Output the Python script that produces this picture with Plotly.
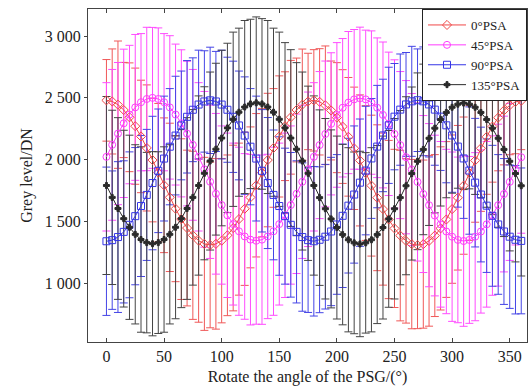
import plotly.graph_objects as go

angles = list(range(0, 365, 5))

psa0 = [2480, 2471, 2445, 2402, 2343, 2271, 2188, 2095, 1997, 1895, 1793, 1695, 1603, 1519, 1447, 1388, 1345, 1319, 1310,
        1319, 1345, 1388, 1447, 1519, 1603, 1695, 1793, 1895, 1997, 2095, 2188, 2271, 2343, 2402, 2445, 2471, 2480,
        2468, 2440, 2398, 2340, 2268, 2185, 2092, 1994, 1892, 1790, 1692, 1600, 1516, 1444, 1386, 1343, 1317, 1308,
        1317, 1343, 1386, 1444, 1516, 1600, 1692, 1790, 1892, 1994, 2092, 2185, 2268, 2340, 2398, 2440, 2468, 2476]
err0 = [330, 425, 515, 385, 440, 470, 455, 510, 500, 560, 545, 600, 590, 650, 630, 680, 660, 700, 670,
        690, 665, 650, 670, 615, 620, 570, 580, 520, 540, 480, 490, 440, 460, 420, 450, 390, 410,
        430, 480, 400, 445, 460, 480, 495, 530, 545, 570, 590, 615, 640, 640, 690, 665, 685, 675,
        680, 690, 655, 660, 630, 600, 585, 555, 545, 500, 510, 465, 450, 430, 440, 400, 420, 395]

psa45 = [2023, 2120, 2211, 2294, 2365, 2423, 2465, 2491, 2500, 2491, 2465, 2423, 2365, 2294, 2211, 2120, 2023, 1922, 1821,
         1724, 1633, 1550, 1479, 1421, 1379, 1353, 1344, 1353, 1379, 1421, 1479, 1550, 1633, 1724, 1821, 1922, 2023,
         2118, 2208, 2290, 2362, 2420, 2462, 2488, 2497, 2488, 2462, 2420, 2362, 2290, 2208, 2118, 2020, 1920, 1820,
         1722, 1632, 1548, 1477, 1419, 1377, 1351, 1342, 1351, 1377, 1419, 1477, 1548, 1632, 1722, 1820, 1920, 2020]
err45 = [600, 610, 575, 600, 560, 590, 555, 580, 570, 575, 555, 580, 570, 595, 585, 610, 600, 630, 620,
         650, 640, 665, 655, 680, 670, 690, 675, 685, 665, 680, 655, 665, 640, 645, 620, 625, 600,
         595, 590, 575, 585, 560, 575, 565, 575, 560, 580, 565, 590, 580, 600, 595, 620, 615, 640,
         635, 660, 650, 670, 665, 685, 670, 690, 675, 680, 660, 670, 645, 655, 630, 635, 610, 615]

psa90 = [1340, 1349, 1374, 1416, 1473, 1543, 1625, 1715, 1811, 1910, 2009, 2105, 2195, 2277, 2347, 2404, 2446, 2471, 2480,
         2471, 2446, 2404, 2347, 2277, 2195, 2105, 2009, 1910, 1811, 1715, 1625, 1543, 1473, 1416, 1374, 1349, 1340,
         1352, 1377, 1419, 1476, 1546, 1628, 1718, 1814, 1912, 2010, 2106, 2196, 2278, 2348, 2405, 2447, 2472, 2481,
         2472, 2447, 2405, 2348, 2278, 2196, 2106, 2010, 1912, 1814, 1718, 1628, 1546, 1476, 1419, 1377, 1352, 1343]
err90 = [600, 560, 610, 575, 590, 555, 570, 530, 540, 500, 505, 470, 480, 440, 455, 420, 440, 410, 430,
         405, 440, 425, 450, 440, 475, 470, 505, 495, 530, 525, 560, 550, 585, 575, 600, 585, 605,
         590, 585, 600, 565, 580, 545, 555, 515, 520, 485, 495, 455, 470, 430, 450, 420, 445, 415,
         440, 425, 450, 435, 465, 460, 490, 485, 515, 520, 545, 540, 570, 565, 590, 580, 600, 590]

psa135 = [1791, 1695, 1605, 1523, 1453, 1396, 1354, 1329, 1320, 1329, 1354, 1396, 1453, 1523, 1605, 1695, 1791, 1890, 1989,
          2085, 2175, 2257, 2327, 2384, 2426, 2451, 2460, 2451, 2426, 2384, 2327, 2257, 2175, 2085, 1989, 1890, 1791,
          1693, 1603, 1521, 1451, 1394, 1352, 1327, 1318, 1327, 1352, 1394, 1451, 1521, 1603, 1693, 1789, 1888, 1987,
          2083, 2173, 2255, 2325, 2382, 2424, 2449, 2458, 2449, 2424, 2382, 2325, 2255, 2173, 2083, 1987, 1888, 1789]
err135 = [720, 705, 735, 715, 745, 725, 750, 730, 745, 735, 750, 725, 740, 720, 735, 710, 725, 700, 720,
          695, 710, 685, 705, 680, 700, 685, 695, 690, 700, 680, 705, 690, 715, 700, 720, 705, 725,
          710, 730, 720, 740, 730, 745, 735, 750, 730, 745, 720, 740, 715, 730, 705, 720, 700, 715,
          690, 705, 685, 700, 690, 695, 680, 700, 685, 705, 690, 710, 700, 720, 705, 725, 715, 730]

series_names = ["0°PSA", "45°PSA", "90°PSA", "135°PSA"]
x_ticks = [0, 50, 100, 150, 200, 250, 300, 350]
y_tick_vals = [1000, 1500, 2000, 2500, 3000]
y_tick_text = ["1 000", "1 500", "2 000", "2 500", "3 000"]

values = [psa0, psa45, psa90, psa135]
errors = [err0, err45, err90, err135]
colors = ["#F04848", "#FF3CFF", "#3434E6", "#2A2A2A"]
bar_colors = ["#F05858", "#FF4CFF", "#4444E6", "#444444"]
symbols = ["diamond-open", "circle-open", "square-open", "cross"]
sizes = [7, 7, 7, 5]

FONT = "Liberation Serif, Times New Roman, serif"

fig = go.Figure()

for v, e, c in zip(values, errors, bar_colors):
    fig.add_trace(go.Scatter(
        x=angles, y=v, mode="markers",
        marker=dict(size=1, color="rgba(0,0,0,0)"),
        error_y=dict(type="data", array=e, visible=True, color=c, thickness=1, width=4),
        showlegend=False, hoverinfo="skip"))

for v, c, s, sz, n in zip(values, colors, symbols, sizes, series_names):
    fig.add_trace(go.Scatter(
        x=angles, y=v, mode="lines+markers", name=n,
        line=dict(color=c, width=1),
        marker=dict(symbol=s, size=sz, color=c, line=dict(color=c, width=1))))

fig.update_layout(
    width=529, height=392,
    margin=dict(l=88, r=2, t=9, b=50),
    paper_bgcolor="white", plot_bgcolor="white",
    font=dict(family=FONT, size=16, color="#222"),
    legend=dict(x=1, y=1, xanchor="right", yanchor="top",
                bgcolor="white", bordercolor="#222", borderwidth=1,
                font=dict(family=FONT, size=13, color="#222"),
                itemwidth=38, tracegroupgap=0),
)
fig.update_xaxes(
    range=[-16, 365], tickvals=x_ticks, ticks="inside", ticklen=4,
    showline=True, linecolor="#444", linewidth=1, mirror="ticks",
    showgrid=False, zeroline=False,
    title=dict(text="Rotate the angle of the PSG/(°)", font=dict(family=FONT, size=16), standoff=6))
fig.update_yaxes(
    range=[525, 3219], tickvals=y_tick_vals, ticktext=y_tick_text, ticks="outside", ticklen=3,
    showline=True, linecolor="#444", linewidth=1, mirror=True,
    showgrid=False, zeroline=False,
    title=dict(text="Grey level/DN", font=dict(family=FONT, size=16), standoff=8))

fig.write_html("out.html", config={"displayModeBar": False},
               post_script="document.body.style.margin='0px';")
